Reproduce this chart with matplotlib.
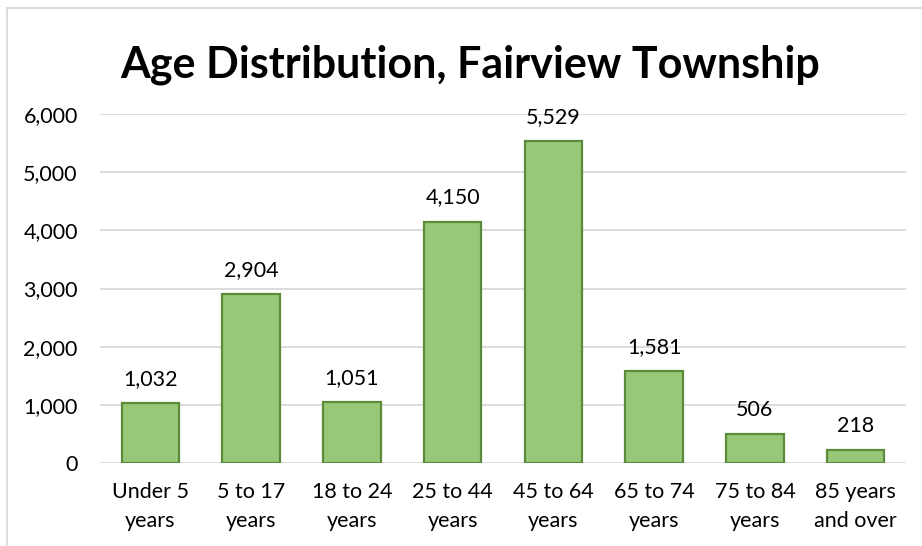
import matplotlib
matplotlib.use('Agg')
import matplotlib.pyplot as plt
from matplotlib.lines import Line2D
from matplotlib.ticker import FuncFormatter

# Data
categories = ['Under 5\nyears', '5 to 17\nyears', '18 to 24\nyears', '25 to 44\nyears',
              '45 to 64\nyears', '65 to 74\nyears', '75 to 84\nyears', '85 years\nand over']
population = [1032, 2904, 1051, 4150, 5529, 1581, 506, 218]
y_ticks = [0, 1000, 2000, 3000, 4000, 5000, 6000]

plt.rcParams['font.family'] = ['Lato', 'DejaVu Sans']

W, H = 922, 546
fig = plt.figure(figsize=(W / 100, H / 100), dpi=100)
ax = fig.add_axes([100 / W, 1 - 463 / H, 806 / W, (463 - 114) / H])

x = range(len(categories))
ax.bar(x, population, width=0.57, color='#97C777', edgecolor='#5B8C3C',
       linewidth=1.6, zorder=3)

# value labels above bars
for xi, v in zip(x, population):
    ax.annotate(f'{v:,}', (xi, v), xytext=(0, 13), textcoords='offset points',
                ha='center', va='baseline', fontsize=15.5, color='#000000')

ax.set_xlim(-0.5, len(categories) - 0.5)
ax.set_ylim(0, 6000)
ax.set_yticks(y_ticks)
ax.yaxis.set_major_formatter(FuncFormatter(lambda v, p: f'{int(v):,}'))
ax.set_xticks(list(x))
ax.set_xticklabels(categories, fontsize=15.5, linespacing=1.55)
ax.tick_params(axis='y', labelsize=15.5, length=0, pad=16)
ax.tick_params(axis='x', length=0, pad=14)

ax.grid(axis='y', color='#D9D9D9', linewidth=1.3, zorder=0)
for s in ax.spines.values():
    s.set_visible(False)

fig.text(470 / W, 1 - 65 / H, 'Age Distribution, Fairview Township',
         ha='center', va='center', fontsize=31, fontweight='bold')

# chart border (cropped on right and bottom)
fig.add_artist(Line2D([7 / W, 7 / W], [0, 1 - 8 / H], transform=fig.transFigure,
                      color='#D9D9D9', linewidth=1.3))
fig.add_artist(Line2D([7 / W, 1], [1 - 8 / H, 1 - 8 / H], transform=fig.transFigure,
                      color='#D9D9D9', linewidth=1.3))

fig.savefig('out.png', dpi=100)
